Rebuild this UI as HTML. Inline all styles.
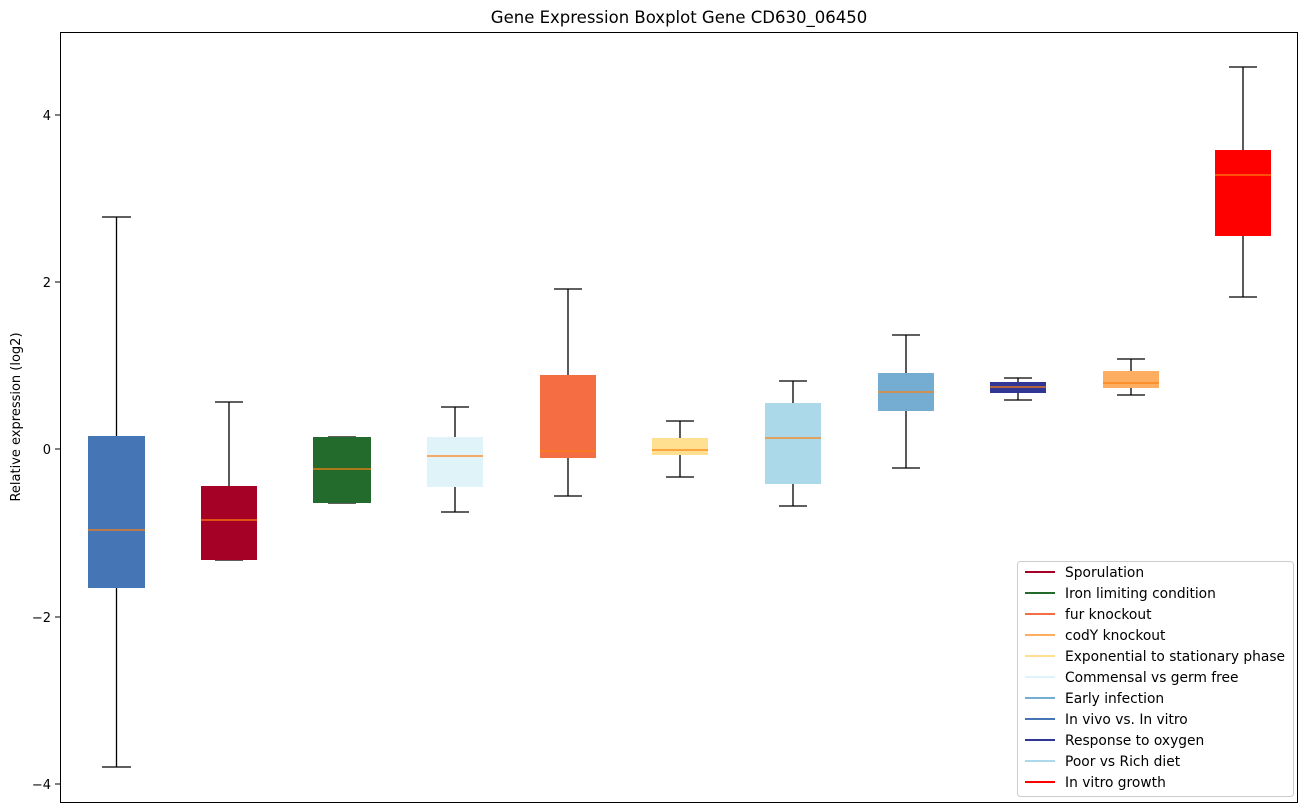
<!DOCTYPE html>
<html><head><style>body{margin:0;background:#fff}svg{display:block;font-family:"DejaVu Sans",sans-serif}</style></head><body>
<svg width="1309" height="812" xmlns="http://www.w3.org/2000/svg">
<rect width="1309" height="812" fill="#fff"/>
<text x="679" y="23" font-size="16.5" text-anchor="middle">Gene Expression Boxplot Gene CD630_06450</text>
<text transform="translate(20,417) rotate(-90)" font-size="13" text-anchor="middle">Relative expression (log2)</text>
<g font-size="13" text-anchor="end">
<line x1="55" x2="60" y1="115" y2="115" stroke="#000"/><text x="51" y="120">4</text>
<line x1="55" x2="60" y1="282" y2="282" stroke="#000"/><text x="51" y="287">2</text>
<line x1="55" x2="60" y1="449" y2="449" stroke="#000"/><text x="51" y="454">0</text>
<line x1="55" x2="60" y1="617" y2="617" stroke="#000"/><text x="51" y="622">−2</text>
<line x1="55" x2="60" y1="784" y2="784" stroke="#000"/><text x="51" y="789">−4</text>
</g>
<g stroke="#000" stroke-width="1.3">
<path d="M116.5 217V436M116.5 588V767M102 217H131M102 767H131"/>
<path d="M229 402V486M215 402H243M215 560H243"/>
<path d="M328 437H356M328 503H356"/>
<path d="M455 407V437M455 487V512M441 407H469M441 512H469"/>
<path d="M568 289V375M568 458V496M554 289H582M554 496H582"/>
<path d="M680 421V438M680 455V477M666 421H694M666 477H694"/>
<path d="M793 381V403M793 484V506M779 381H807M779 506H807"/>
<path d="M906 335V373M906 411V468M892 335H920M892 468H920"/>
<path d="M1018 378V382M1018 393V400M1004 378H1032M1004 400H1032"/>
<path d="M1131 359V371M1131 388V395M1117 359H1145M1117 395H1145"/>
<path d="M1243 67V150M1243 236V297M1229 67H1257M1229 297H1257"/>
</g>
<g>
<rect x="88" y="436" width="57" height="152" fill="#4575b4"/>
<rect x="201" y="486" width="56" height="74" fill="#a50026"/>
<rect x="313" y="437" width="58" height="66" fill="#226b2c"/>
<rect x="427" y="437" width="56" height="50" fill="#e0f3f8"/>
<rect x="540" y="375" width="56" height="83" fill="#f46d43"/>
<rect x="652" y="438" width="56" height="17" fill="#fee090"/>
<rect x="765" y="403" width="56" height="81" fill="#abd9e9"/>
<rect x="878" y="373" width="56" height="38" fill="#74add1"/>
<rect x="990" y="382" width="56" height="11" fill="#313695"/>
<rect x="1103" y="371" width="56" height="17" fill="#fdae61"/>
<rect x="1215" y="150" width="56" height="86" fill="#ff0000"/>
</g>
<g stroke="#ff7f0e" stroke-width="1.3">
<path d="M88 530H145M201 520H257M313 469H371M427 456H483M540 451H596M652 450H708M765 438H821M878 392H934M990 387H1046M1103 383H1159M1215 175H1271"/>
</g>
<rect x="60.5" y="32.5" width="1237" height="770" fill="none" stroke="#000"/>
<rect x="1017.5" y="561.5" width="276" height="235" rx="3" fill="#fff" fill-opacity="0.85" stroke="#ccc"/>
<g font-size="13.8" stroke-width="2">
<line x1="1025" x2="1055" y1="572" y2="572" stroke="#a50026"/><text x="1065" y="577">Sporulation</text>
<line x1="1025" x2="1055" y1="593" y2="593" stroke="#226b2c"/><text x="1065" y="598">Iron limiting condition</text>
<line x1="1025" x2="1055" y1="614" y2="614" stroke="#f46d43"/><text x="1065" y="619">fur knockout</text>
<line x1="1025" x2="1055" y1="635" y2="635" stroke="#fdae61"/><text x="1065" y="640">codY knockout</text>
<line x1="1025" x2="1055" y1="656" y2="656" stroke="#fee090"/><text x="1065" y="661">Exponential to stationary phase</text>
<line x1="1025" x2="1055" y1="677" y2="677" stroke="#e0f3f8"/><text x="1065" y="682">Commensal vs germ free</text>
<line x1="1025" x2="1055" y1="698" y2="698" stroke="#74add1"/><text x="1065" y="703">Early infection</text>
<line x1="1025" x2="1055" y1="719" y2="719" stroke="#4575b4"/><text x="1065" y="724">In vivo vs. In vitro</text>
<line x1="1025" x2="1055" y1="740" y2="740" stroke="#313695"/><text x="1065" y="745">Response to oxygen</text>
<line x1="1025" x2="1055" y1="761" y2="761" stroke="#abd9e9"/><text x="1065" y="766">Poor vs Rich diet</text>
<line x1="1025" x2="1055" y1="782" y2="782" stroke="#ff0000"/><text x="1065" y="787">In vitro growth</text>
</g>
</svg>
</body></html>
